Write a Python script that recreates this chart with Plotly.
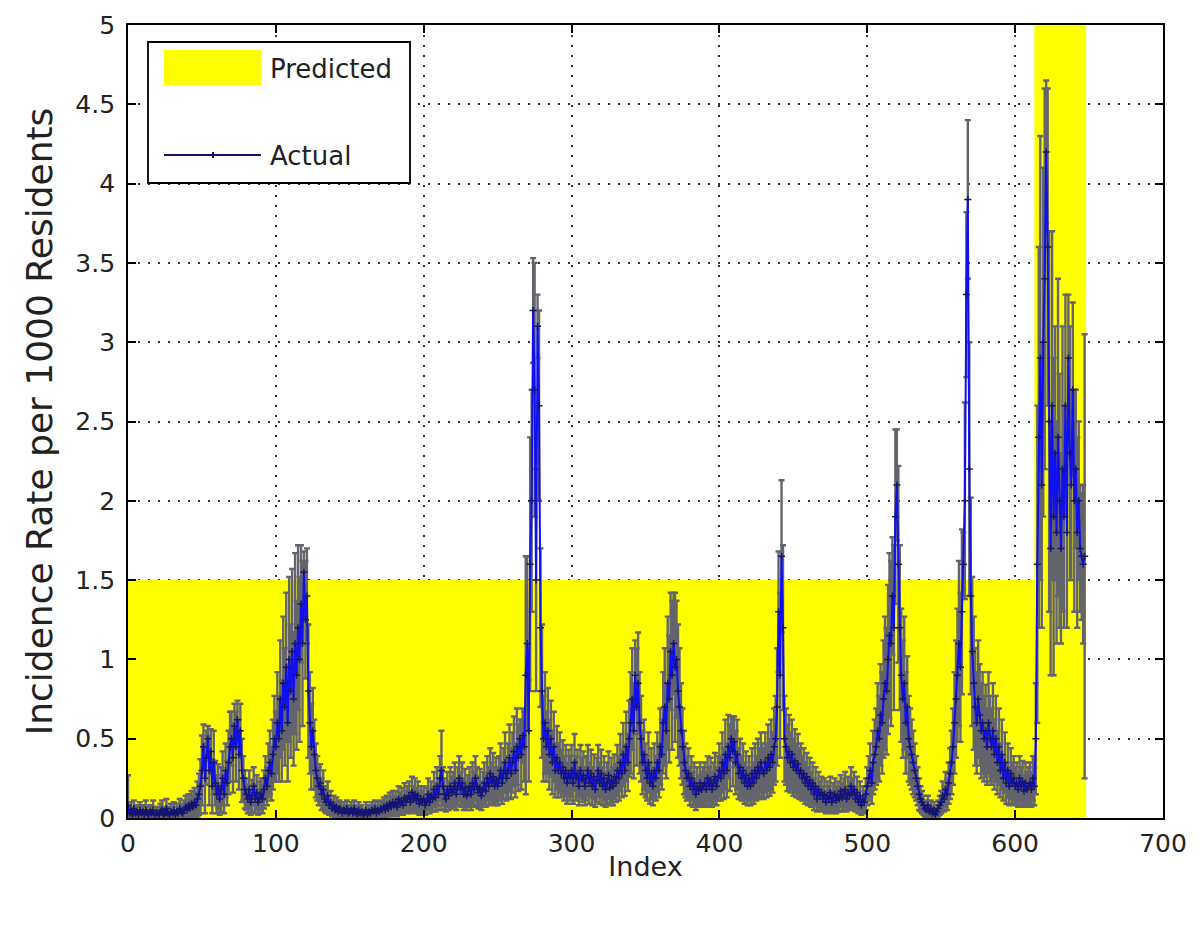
import plotly.graph_objects as go

# ---- data (index runs 0..647) ----
rate = [
    0.08, 0.03, 0.05, 0.02, 0.06, 0.03, 0.04, 0.02, 0.05, 0.03,
    0.04, 0.02, 0.05, 0.03, 0.02, 0.04, 0.03, 0.05, 0.02, 0.03,
    0.03, 0.02, 0.04, 0.05, 0.02, 0.03, 0.06, 0.03, 0.02, 0.04,
    0.03, 0.05, 0.02, 0.04, 0.03, 0.06, 0.04, 0.03, 0.05, 0.07,
    0.05, 0.08, 0.06, 0.09, 0.07, 0.10, 0.08, 0.12, 0.15, 0.20,
    0.30, 0.45, 0.25, 0.38, 0.50, 0.30, 0.42, 0.20, 0.35, 0.22,
    0.15, 0.20, 0.12, 0.18, 0.25, 0.15, 0.30, 0.22, 0.35, 0.45,
    0.50, 0.38, 0.58, 0.45, 0.62, 0.40, 0.55, 0.30, 0.25, 0.18,
    0.15, 0.12, 0.18, 0.10, 0.14, 0.20, 0.12, 0.16, 0.10, 0.13,
    0.15, 0.12, 0.18, 0.25, 0.20, 0.30, 0.35, 0.28, 0.40, 0.50,
    0.45, 0.60, 0.50, 0.75, 0.55, 0.85, 0.70, 0.95, 0.60, 1.00,
    0.80, 1.05, 0.75, 1.10, 0.90, 1.20, 1.00, 1.35, 1.10, 1.55,
    1.25, 1.40, 0.80, 0.60, 0.45, 0.55, 0.40, 0.30, 0.25, 0.20,
    0.22, 0.15, 0.18, 0.12, 0.10, 0.14, 0.08, 0.10, 0.06, 0.08,
    0.05, 0.07, 0.04, 0.06, 0.05, 0.03, 0.05, 0.04, 0.06, 0.03,
    0.04, 0.05, 0.03, 0.06, 0.04, 0.02, 0.05, 0.03, 0.04, 0.02,
    0.03, 0.05, 0.02, 0.04, 0.03, 0.05, 0.04, 0.06, 0.03, 0.05,
    0.04, 0.06, 0.05, 0.07, 0.05, 0.08, 0.06, 0.09, 0.07, 0.10,
    0.08, 0.10, 0.07, 0.12, 0.09, 0.11, 0.08, 0.13, 0.10, 0.12,
    0.14, 0.10, 0.16, 0.12, 0.15, 0.11, 0.14, 0.09, 0.12, 0.10,
    0.12, 0.08, 0.11, 0.15, 0.10, 0.14, 0.12, 0.18, 0.13, 0.20,
    0.15, 0.25, 0.30, 0.20, 0.15, 0.12, 0.18, 0.14, 0.20, 0.16,
    0.18, 0.22, 0.15, 0.20, 0.25, 0.18, 0.22, 0.15, 0.19, 0.14,
    0.17, 0.20, 0.15, 0.22, 0.18, 0.25, 0.20, 0.16, 0.19, 0.14,
    0.18, 0.22, 0.17, 0.25, 0.20, 0.28, 0.22, 0.26, 0.20, 0.24,
    0.20, 0.25, 0.30, 0.22, 0.28, 0.35, 0.25, 0.30, 0.38, 0.28,
    0.35, 0.42, 0.30, 0.45, 0.38, 0.50, 0.40, 0.52, 0.45, 0.90,
    1.10, 0.55, 1.60, 2.00, 3.20, 2.70, 1.50, 3.10, 2.60, 1.20,
    0.80, 0.50, 0.60, 0.45, 0.55, 0.40, 0.50, 0.35, 0.45, 0.30,
    0.38, 0.30, 0.35, 0.28, 0.32, 0.25, 0.30, 0.22, 0.28, 0.25,
    0.30, 0.22, 0.35, 0.25, 0.28, 0.20, 0.30, 0.24, 0.27, 0.20,
    0.25, 0.30, 0.22, 0.28, 0.20, 0.26, 0.18, 0.24, 0.30, 0.22,
    0.28, 0.20, 0.25, 0.18, 0.22, 0.27, 0.19, 0.24, 0.20, 0.26,
    0.22, 0.30, 0.25, 0.35, 0.28, 0.40, 0.30, 0.45, 0.35, 0.50,
    0.60, 0.75, 0.55, 0.90, 0.70, 0.85, 0.60, 0.50, 0.35, 0.40,
    0.30, 0.25, 0.35, 0.22, 0.28, 0.20, 0.30, 0.25, 0.35, 0.30,
    0.45, 0.40, 0.60, 0.70, 0.55, 0.85, 0.75, 1.05, 0.90, 1.10,
    0.95, 1.00, 0.80, 0.70, 0.55, 0.45, 0.35, 0.30, 0.25, 0.28,
    0.20, 0.25, 0.18, 0.22, 0.15, 0.20, 0.17, 0.22, 0.18, 0.20,
    0.22, 0.18, 0.25, 0.20, 0.24, 0.18, 0.22, 0.26, 0.20, 0.25,
    0.30, 0.25, 0.35, 0.28, 0.40, 0.30, 0.45, 0.38, 0.50, 0.42,
    0.48, 0.35, 0.40, 0.28, 0.32, 0.25, 0.30, 0.22, 0.27, 0.20,
    0.25, 0.20, 0.28, 0.22, 0.30, 0.25, 0.32, 0.28, 0.35, 0.30,
    0.28, 0.35, 0.30, 0.38, 0.32, 0.40, 0.35, 0.45, 0.50, 0.70,
    1.30, 0.90, 1.65, 1.20, 0.50, 0.45, 0.38, 0.42, 0.35, 0.40,
    0.32, 0.36, 0.30, 0.34, 0.28, 0.30, 0.25, 0.28, 0.22, 0.26,
    0.20, 0.24, 0.18, 0.22, 0.15, 0.20, 0.12, 0.18, 0.14, 0.16,
    0.12, 0.15, 0.10, 0.14, 0.12, 0.16, 0.10, 0.13, 0.15, 0.11,
    0.14, 0.12, 0.17, 0.13, 0.15, 0.18, 0.12, 0.16, 0.14, 0.20,
    0.15, 0.18, 0.12, 0.16, 0.10, 0.14, 0.08, 0.12, 0.10, 0.15,
    0.20, 0.25, 0.30, 0.22, 0.35, 0.40, 0.45, 0.55, 0.50, 0.65,
    0.60, 0.75, 0.85, 0.80, 1.00, 1.15, 1.10, 1.40, 1.20, 1.90,
    2.10, 1.60, 1.20, 0.90, 0.75, 0.85, 0.60, 0.70, 0.50, 0.45,
    0.40, 0.35, 0.30, 0.25, 0.20, 0.15, 0.12, 0.10, 0.08, 0.06,
    0.05, 0.08, 0.04, 0.06, 0.03, 0.05, 0.02, 0.04, 0.06, 0.08,
    0.10, 0.14, 0.12, 0.18, 0.15, 0.22, 0.28, 0.35, 0.45, 0.60,
    0.75, 0.90, 1.10, 0.95, 1.30, 1.60, 2.00, 3.30, 3.90, 2.20,
    1.40, 1.05, 0.85, 0.70, 0.60, 0.75, 0.65, 0.55, 0.60, 0.50,
    0.55, 0.45, 0.60, 0.50, 0.45, 0.55, 0.40, 0.50, 0.35, 0.45,
    0.30, 0.40, 0.25, 0.35, 0.22, 0.30, 0.20, 0.28, 0.22, 0.25,
    0.20, 0.22, 0.18, 0.25, 0.20, 0.23, 0.17, 0.22, 0.18, 0.20,
    0.22, 0.18, 0.25, 0.20, 0.50, 1.60, 2.40, 2.90, 2.10, 3.00,
    3.40, 4.20, 3.60, 2.50, 1.70, 2.60, 1.90, 2.30, 1.80, 2.40,
    2.00, 1.70, 2.20, 1.90, 2.60, 1.80, 2.90, 2.30, 2.10, 2.70,
    2.00, 2.20, 1.80, 2.00, 1.70, 1.65, 1.60, 1.65,
]

err = [
    0.19, 0.04, 0.05, 0.03, 0.05, 0.04, 0.04, 0.03, 0.05, 0.04,
    0.04, 0.03, 0.06, 0.04, 0.03, 0.04, 0.04, 0.06, 0.03, 0.04,
    0.04, 0.03, 0.05, 0.06, 0.03, 0.04, 0.06, 0.04, 0.03, 0.05,
    0.04, 0.05, 0.03, 0.05, 0.04, 0.06, 0.05, 0.04, 0.06, 0.07,
    0.05, 0.07, 0.06, 0.08, 0.07, 0.09, 0.08, 0.11, 0.13, 0.17,
    0.22, 0.14, 0.22, 0.17, 0.08, 0.22, 0.14, 0.17, 0.20, 0.14,
    0.12, 0.14, 0.10, 0.14, 0.17, 0.12, 0.17, 0.14, 0.20, 0.22,
    0.17, 0.22, 0.14, 0.22, 0.12, 0.22, 0.17, 0.20, 0.14, 0.12,
    0.10, 0.09, 0.12, 0.08, 0.10, 0.12, 0.09, 0.11, 0.08, 0.10,
    0.10, 0.09, 0.12, 0.14, 0.12, 0.17, 0.20, 0.17, 0.22, 0.27,
    0.22, 0.32, 0.27, 0.37, 0.32, 0.42, 0.37, 0.47, 0.37, 0.52,
    0.42, 0.52, 0.42, 0.57, 0.47, 0.52, 0.52, 0.37, 0.52, 0.13,
    0.37, 0.30, 0.42, 0.32, 0.27, 0.27, 0.22, 0.17, 0.14, 0.12,
    0.12, 0.10, 0.12, 0.08, 0.07, 0.09, 0.06, 0.07, 0.05, 0.06,
    0.05, 0.06, 0.04, 0.05, 0.05, 0.04, 0.05, 0.04, 0.05, 0.04,
    0.04, 0.05, 0.04, 0.05, 0.04, 0.03, 0.05, 0.04, 0.04, 0.03,
    0.03, 0.05, 0.03, 0.04, 0.04, 0.05, 0.04, 0.05, 0.04, 0.05,
    0.04, 0.05, 0.05, 0.06, 0.05, 0.06, 0.05, 0.07, 0.06, 0.07,
    0.06, 0.07, 0.06, 0.08, 0.07, 0.08, 0.06, 0.09, 0.07, 0.08,
    0.09, 0.07, 0.10, 0.08, 0.10, 0.08, 0.09, 0.07, 0.08, 0.07,
    0.08, 0.06, 0.08, 0.10, 0.07, 0.09, 0.08, 0.11, 0.09, 0.12,
    0.10, 0.14, 0.25, 0.12, 0.10, 0.08, 0.11, 0.09, 0.12, 0.10,
    0.11, 0.13, 0.10, 0.12, 0.14, 0.11, 0.13, 0.10, 0.12, 0.09,
    0.10, 0.12, 0.10, 0.13, 0.11, 0.14, 0.12, 0.10, 0.12, 0.09,
    0.11, 0.13, 0.10, 0.14, 0.12, 0.16, 0.13, 0.15, 0.12, 0.14,
    0.12, 0.14, 0.17, 0.13, 0.16, 0.19, 0.14, 0.17, 0.21, 0.16,
    0.19, 0.22, 0.17, 0.24, 0.21, 0.12, 0.22, 0.17, 0.22, 0.75,
    0.55, 0.32, 0.80, 0.70, 0.33, 0.80, 0.70, 0.20, 0.60, 0.50,
    0.42, 0.27, 0.32, 0.22, 0.27, 0.22, 0.24, 0.20, 0.22, 0.17,
    0.20, 0.17, 0.19, 0.15, 0.17, 0.14, 0.16, 0.13, 0.15, 0.14,
    0.16, 0.13, 0.18, 0.14, 0.15, 0.12, 0.16, 0.14, 0.15, 0.12,
    0.14, 0.16, 0.13, 0.15, 0.12, 0.14, 0.11, 0.14, 0.16, 0.13,
    0.15, 0.12, 0.14, 0.11, 0.13, 0.15, 0.11, 0.14, 0.12, 0.14,
    0.12, 0.16, 0.14, 0.18, 0.15, 0.20, 0.16, 0.22, 0.18, 0.24,
    0.32, 0.32, 0.30, 0.22, 0.37, 0.32, 0.32, 0.27, 0.20, 0.22,
    0.17, 0.14, 0.19, 0.13, 0.16, 0.12, 0.17, 0.14, 0.19, 0.17,
    0.24, 0.22, 0.32, 0.37, 0.30, 0.42, 0.40, 0.37, 0.47, 0.32,
    0.47, 0.37, 0.42, 0.37, 0.30, 0.24, 0.20, 0.17, 0.14, 0.16,
    0.12, 0.14, 0.11, 0.13, 0.10, 0.12, 0.10, 0.13, 0.11, 0.12,
    0.13, 0.11, 0.14, 0.12, 0.14, 0.11, 0.13, 0.15, 0.12, 0.14,
    0.17, 0.14, 0.19, 0.16, 0.22, 0.17, 0.20, 0.21, 0.14, 0.22,
    0.16, 0.20, 0.22, 0.16, 0.18, 0.14, 0.17, 0.13, 0.15, 0.12,
    0.14, 0.12, 0.16, 0.13, 0.17, 0.14, 0.18, 0.16, 0.19, 0.17,
    0.16, 0.19, 0.17, 0.21, 0.18, 0.22, 0.19, 0.24, 0.27, 0.37,
    0.38, 0.52, 0.48, 0.52, 0.27, 0.24, 0.21, 0.23, 0.19, 0.22,
    0.18, 0.20, 0.17, 0.19, 0.16, 0.17, 0.14, 0.16, 0.13, 0.15,
    0.12, 0.14, 0.11, 0.13, 0.10, 0.12, 0.08, 0.11, 0.09, 0.10,
    0.08, 0.10, 0.07, 0.09, 0.08, 0.10, 0.07, 0.09, 0.10, 0.08,
    0.09, 0.08, 0.10, 0.09, 0.10, 0.11, 0.08, 0.10, 0.09, 0.12,
    0.10, 0.11, 0.08, 0.10, 0.07, 0.09, 0.06, 0.08, 0.07, 0.10,
    0.12, 0.14, 0.17, 0.13, 0.20, 0.22, 0.24, 0.30, 0.27, 0.32,
    0.32, 0.37, 0.42, 0.40, 0.47, 0.52, 0.52, 0.37, 0.52, 0.55,
    0.35, 0.62, 0.52, 0.42, 0.37, 0.42, 0.32, 0.32, 0.27, 0.24,
    0.22, 0.20, 0.17, 0.14, 0.12, 0.10, 0.08, 0.07, 0.06, 0.05,
    0.05, 0.06, 0.04, 0.05, 0.04, 0.05, 0.04, 0.04, 0.05, 0.06,
    0.07, 0.09, 0.08, 0.11, 0.10, 0.13, 0.16, 0.20, 0.24, 0.32,
    0.37, 0.42, 0.52, 0.47, 0.52, 0.20, 0.62, 0.52, 0.50, 0.80,
    0.62, 0.47, 0.42, 0.37, 0.32, 0.37, 0.32, 0.30, 0.32, 0.27,
    0.29, 0.24, 0.32, 0.27, 0.24, 0.30, 0.22, 0.27, 0.20, 0.24,
    0.17, 0.22, 0.14, 0.19, 0.13, 0.17, 0.12, 0.16, 0.13, 0.14,
    0.12, 0.13, 0.11, 0.14, 0.12, 0.13, 0.10, 0.13, 0.11, 0.12,
    0.13, 0.11, 0.14, 0.12, 0.35, 1.00, 1.20, 1.40, 0.90, 1.10,
    1.20, 0.45, 1.00, 1.20, 0.80, 1.10, 1.00, 0.80, 0.70, 1.00,
    0.80, 0.60, 0.90, 0.70, 0.70, 0.60, 0.40, 0.80, 0.60, 0.55,
    0.70, 0.50, 0.60, 0.50, 0.40, 0.40, 0.50, 1.40,
]

# predicted band: step edges (index) and band heights between them
pred_edges = [0, 613, 648]
pred_heights = [1.5, 5.0]

x_ticks = [0, 100, 200, 300, 400, 500, 600, 700]
y_ticks = [0, 0.5, 1, 1.5, 2, 2.5, 3, 3.5, 4, 4.5, 5]

legend_labels = ["Predicted", "Actual"]

n = min(len(rate), len(err))
idx = list(range(0, n))
rate = rate[:n]
err = err[:n]

FONT = "DejaVu Sans, Liberation Sans, Arial, sans-serif"
YELLOW = "#ffff00"
BLUE = "rgb(15,15,240)"
NAVY = "rgb(20,20,110)"

fig = go.Figure()

# Predicted (yellow step area)
fig.add_trace(go.Scatter(
    x=pred_edges,
    y=pred_heights + [pred_heights[-1]],
    mode="lines",
    line=dict(width=0, shape="hv", color=YELLOW),
    fill="tozeroy",
    fillcolor=YELLOW,
    name=legend_labels[0],
    showlegend=False,
    hoverinfo="skip",
))

# error bars (drawn beneath the line)
fig.add_trace(go.Scatter(
    x=idx, y=rate,
    mode="markers",
    marker=dict(size=1, color="rgba(0,0,0,0)"),
    error_y=dict(type="data", array=err, visible=True,
                 color="rgb(100,100,108)", thickness=2.4, width=3),
    showlegend=False,
    hoverinfo="skip",
))

# Actual line
fig.add_trace(go.Scatter(
    x=idx, y=rate,
    mode="lines+markers",
    line=dict(color=BLUE, width=2),
    marker=dict(symbol="cross-thin", size=5,
                line=dict(color=NAVY, width=1.5), color=NAVY),
    name=legend_labels[1],
    showlegend=False,
))

axis_common = dict(
    showline=True, linecolor="black", linewidth=1.8, mirror="allticks",
    ticks="inside", ticklen=8, tickcolor="black", tickwidth=1.5,
    showgrid=True, gridcolor="rgb(50,50,50)", griddash="2px,8px", gridwidth=2,
    zeroline=False, automargin=False,
    tickfont=dict(family=FONT, size=25, color="#222"),
)

# manual MATLAB-style legend box (paper coordinates)
def px_x(p):
    return (p - 128) / 1035.0

def px_y(p):
    return (818 - p) / 793.0

shapes = [
    dict(type="rect", xref="paper", yref="paper", layer="above",
         x0=px_x(148), x1=px_x(410), y0=px_y(183), y1=px_y(42),
         fillcolor="white", line=dict(color="black", width=1.8)),
    dict(type="rect", xref="paper", yref="paper", layer="above",
         x0=px_x(164), x1=px_x(261), y0=px_y(85), y1=px_y(50),
         fillcolor=YELLOW, line=dict(width=0)),
    dict(type="line", xref="paper", yref="paper", layer="above",
         x0=px_x(164), x1=px_x(261), y0=px_y(155), y1=px_y(155),
         line=dict(color=NAVY, width=2)),
    dict(type="line", xref="paper", yref="paper", layer="above",
         x0=px_x(213), x1=px_x(213), y0=px_y(152), y1=px_y(158),
         line=dict(color=NAVY, width=2)),
]
annotations = [
    dict(xref="paper", yref="paper", x=px_x(268), y=px_y(69),
         xanchor="left", yanchor="middle", showarrow=False,
         text=legend_labels[0], font=dict(family=FONT, size=26, color="#222")),
    dict(xref="paper", yref="paper", x=px_x(268), y=px_y(156),
         xanchor="left", yanchor="middle", showarrow=False,
         text=legend_labels[1], font=dict(family=FONT, size=26, color="#222")),
]

fig.update_layout(
    width=1200, height=926,
    paper_bgcolor="white", plot_bgcolor="white",
    margin=dict(l=120, r=45, t=17, b=116),
    font=dict(family=FONT, size=25, color="#222"),
    xaxis=dict(range=[0, 700], tickvals=x_ticks, ticklabelstandoff=2,
               title=dict(text="Index", font=dict(family=FONT, size=27), standoff=0),
               **axis_common),
    yaxis=dict(range=[0, 5], tickvals=y_ticks, ticklabelstandoff=6,
               title=dict(text="Incidence Rate per 1000 Residents",
                          font=dict(family=FONT, size=36), standoff=12),
               **axis_common),
    shapes=shapes,
    annotations=annotations,
    showlegend=False,
)

fig.write_html("out.html")
